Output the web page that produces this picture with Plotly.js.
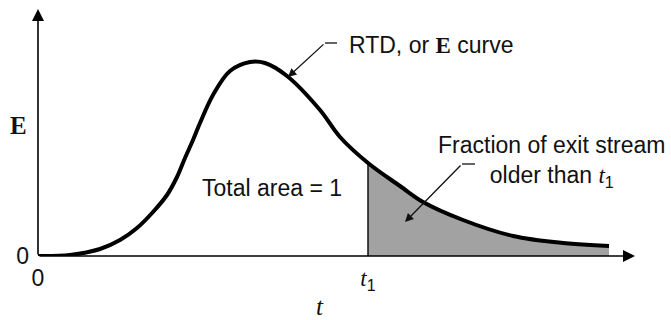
<!DOCTYPE html>
<html>
<head>
<meta charset="utf-8">
<script src="https://cdn.plot.ly/plotly-3.0.1.min.js"></script>
<style>
  html, body { margin: 0; padding: 0; background: #fff; }
  #chart { width: 671px; height: 320px; }
</style>
</head>
<body>
<div id="chart"></div>
<script>
// E(t) curve (t in arbitrary units, E in arbitrary units)
const tValues = [0, 0.64, 1.24, 1.64, 1.98, 2.3, 2.58, 2.78, 2.94, 3.1, 3.24, 3.5, 3.84, 4.24,
  4.54, 4.98, 5.64, 6.04, 6.6, 7.24, 7.7, 8.5, 9.5, 10.5, 11.42];
const eValues = [0, 0.001, 0.007, 0.016, 0.028, 0.044, 0.061, 0.079, 0.098, 0.116, 0.133, 0.161, 0.185, 0.194,
  0.193, 0.18, 0.146, 0.119, 0.093, 0.07, 0.054, 0.036, 0.02, 0.013, 0.01];
const t1 = 6.6;

const tickValsX = [0, t1];
const tickTextX = ['0', '<span style="font-family:Liberation Serif;font-style:italic">t</span><sub>1</sub>'];
const tickValsY = [0];
const tickTextY = ['0'];

const tailT = tValues.filter(t => t >= t1);
const tailE = eValues.filter((e, i) => tValues[i] >= t1);

const sans = 'Liberation Sans, Arial, sans-serif';
const serif = 'Liberation Serif, Times New Roman, serif';

const traces = [
  {
    x: tailT,
    y: tailE,
    type: 'scatter',
    mode: 'lines',
    line: { width: 0, color: 'rgba(0,0,0,0)', shape: 'spline' },
    fill: 'tozeroy',
    fillcolor: '#a2a2a2',
    hoverinfo: 'skip',
  },
  {
    x: [t1, t1],
    y: [0, eValues[tValues.indexOf(t1)]],
    type: 'scatter',
    mode: 'lines',
    line: { width: 1.5, color: '#111' },
    hoverinfo: 'skip',
  },
  {
    x: tValues,
    y: eValues,
    type: 'scatter',
    mode: 'lines',
    line: { width: 4, color: '#000', shape: 'spline', smoothing: 1 },
    hoverinfo: 'skip',
  },
];

const layout = {
  width: 671,
  height: 320,
  margin: { l: 38, r: 33, t: 9, b: 64 },
  showlegend: false,
  paper_bgcolor: '#fff',
  plot_bgcolor: '#fff',
  xaxis: {
    range: [0, 12],
    showgrid: false,
    zeroline: false,
    showline: false,
    ticks: '',
    tickvals: tickValsX,
    ticktext: tickTextX,
    tickfont: { family: sans, size: 23, color: '#111' },
    ticklabelstandoff: 6,
  },
  yaxis: {
    range: [0, 0.247],
    showgrid: false,
    zeroline: false,
    showline: false,
    ticks: '',
    tickvals: tickValsY,
    ticktext: tickTextY,
    tickfont: { family: sans, size: 23, color: '#111' },
    ticklabelstandoff: 8,
  },
  shapes: [
    { type: 'line', xref: 'x', yref: 'y', x0: 5.74, y0: 0.213, x1: 5.98, y1: 0.213, line: { width: 1.3, color: '#111' } },
    { type: 'line', xref: 'x', yref: 'y', x0: 8.48, y0: 0.092, x1: 8.74, y1: 0.092, line: { width: 1.3, color: '#111' } },
  ],
  annotations: [
    // axes with arrow heads
    { x: 0, y: 0.247, ax: 0, ay: 0, xref: 'x', yref: 'y', axref: 'x', ayref: 'y', text: '',
      showarrow: true, arrowhead: 2, arrowsize: 1.5, arrowwidth: 1.6, arrowcolor: '#000', standoff: 0 },
    { x: 11.94, y: 0, ax: 0, ay: 0, xref: 'x', yref: 'y', axref: 'x', ayref: 'y', text: '',
      showarrow: true, arrowhead: 2, arrowsize: 1.5, arrowwidth: 1.6, arrowcolor: '#000', standoff: 0 },
    // pointer arrows
    { x: 5.0, y: 0.179, ax: 5.74, ay: 0.213, xref: 'x', yref: 'y', axref: 'x', ayref: 'y', text: '',
      showarrow: true, arrowhead: 2, arrowsize: 1.3, arrowwidth: 1.3, arrowcolor: '#111', standoff: 0 },
    { x: 7.34, y: 0.034, ax: 8.48, ay: 0.092, xref: 'x', yref: 'y', axref: 'x', ayref: 'y', text: '',
      showarrow: true, arrowhead: 2, arrowsize: 1.3, arrowwidth: 1.3, arrowcolor: '#111', standoff: 0 },
    // labels
    { x: 6.18, y: 0.211, xref: 'x', yref: 'y', xanchor: 'left', yanchor: 'middle', showarrow: false,
      text: 'RTD, or <span style="font-family:Liberation Serif;font-weight:bold">E</span> curve',
      font: { family: sans, size: 23, color: '#111' } },
    { x: 10.27, y: 0.095, xref: 'x', yref: 'y', xanchor: 'center', yanchor: 'middle', showarrow: false, align: 'center',
      text: 'Fraction of exit stream<br>older than <span style="font-family:Liberation Serif;font-style:italic">t</span><sub>1</sub>',
      font: { family: sans, size: 23, color: '#111' } },
    { x: 4.68, y: 0.068, xref: 'x', yref: 'y', xanchor: 'center', yanchor: 'middle', showarrow: false,
      text: 'Total area = 1', font: { family: sans, size: 23, color: '#111' } },
    { x: -0.0333, y: 0.53, xref: 'paper', yref: 'paper', xanchor: 'center', yanchor: 'middle', showarrow: false,
      text: '<span style="font-family:Liberation Serif;font-weight:bold">E</span>', font: { family: serif, size: 25, color: '#111' } },
    { x: 0.47, y: -0.205, xref: 'paper', yref: 'paper', xanchor: 'center', yanchor: 'middle', showarrow: false,
      text: '<span style="font-family:Liberation Serif;font-style:italic">t</span>', font: { family: serif, size: 25, color: '#111' } },
  ],
};

Plotly.newPlot('chart', traces, layout, { displayModeBar: false, staticPlot: true });
</script>
</body>
</html>
